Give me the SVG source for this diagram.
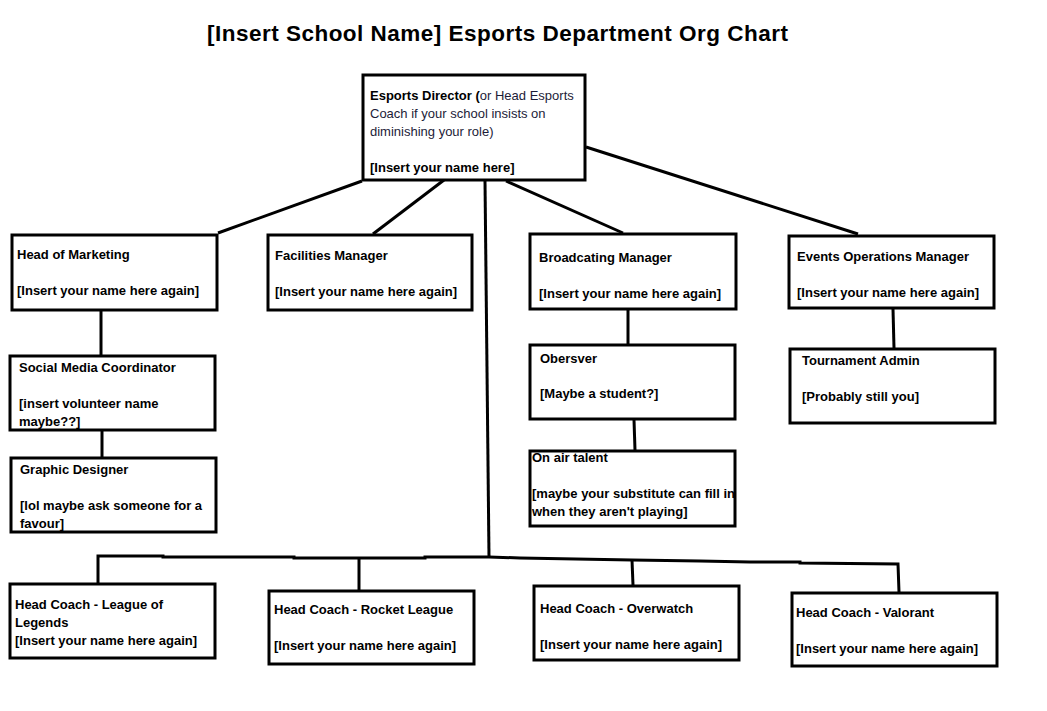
<svg xmlns="http://www.w3.org/2000/svg" width="1047" height="711" viewBox="0 0 1047 711">
<style>
text{font-family:"Liberation Sans",Arial,sans-serif;font-size:13px;font-weight:bold;fill:#000}
.n{font-weight:normal;fill:#1c1c38}
.title{font-size:22.5px}
.box{fill:#fff;stroke:#000;stroke-width:3}
.c{fill:none;stroke:#000;stroke-width:3;stroke-linejoin:miter}
</style>
<rect width="1047" height="711" fill="#fff"/>
<text class="title" x="207" y="41" textLength="581">[Insert School Name] Esports Department Org Chart</text>
<g id="connectors">
<path class="c" d="M362,181 L218,233"/>
<path class="c" d="M444,180 L373,234"/>
<path class="c" d="M485,181 L489,557"/>
<path class="c" d="M506,181 L623,233"/>
<path class="c" d="M586,147 L858,234"/>
<path class="c" d="M101,311 L101,355"/>
<path class="c" d="M102,431 L102,457"/>
<path class="c" d="M628,310 L628,344"/>
<path class="c" d="M634,420 L635,450"/>
<path class="c" d="M893,309 L894,348"/>
<path class="c" d="M98,583 L98,556 L163,556 L163,557 L294,557 L294,558 L425,558 L425,557 L489,557 L520,558 L632,560 L700,561 L750,562 L800,562 L800,563 L898,564 L899,592"/>
<path class="c" d="M359,557 L359,590"/>
<path class="c" d="M632,560 L633,585"/>
</g>
<g id="director">
<rect class="box" x="363" y="75" width="222" height="105"/>
<text x="370" y="100">Esports Director (<tspan class="n">or Head Esports</tspan></text>
<text class="n" x="370" y="118">Coach if your school insists on</text>
<text class="n" x="370" y="136">diminishing your role)</text>
<text x="370" y="172">[Insert your name here]</text>
</g>
<g id="head-marketing">
<rect class="box" x="12" y="235" width="205" height="75"/>
<text x="17" y="259">Head of Marketing</text>
<text x="17" y="295">[Insert your name here again]</text>
</g>
<g id="facilities">
<rect class="box" x="268" y="235" width="204" height="75"/>
<text x="275" y="260">Facilities Manager</text>
<text x="275" y="296">[Insert your name here again]</text>
</g>
<g id="broadcasting">
<rect class="box" x="530" y="234" width="206" height="75"/>
<text x="539" y="262">Broadcating Manager</text>
<text x="539" y="298">[Insert your name here again]</text>
</g>
<g id="events">
<rect class="box" x="789" y="236" width="205" height="72"/>
<text x="797" y="261">Events Operations Manager</text>
<text x="797" y="297">[Insert your name here again]</text>
</g>
<g id="social-media">
<rect class="box" x="10" y="356" width="205" height="74"/>
<text x="19" y="372">Social Media Coordinator</text>
<text x="19" y="408">[insert volunteer name</text>
<text x="19" y="426">maybe??]</text>
</g>
<g id="graphic-designer">
<rect class="box" x="11" y="458" width="205" height="74"/>
<text x="20" y="474">Graphic Designer</text>
<text x="20" y="510">[lol maybe ask someone for a</text>
<text x="20" y="528">favour]</text>
</g>
<g id="observer">
<rect class="box" x="530" y="345" width="205" height="74"/>
<text x="540" y="363">Obersver</text>
<text x="540" y="398">[Maybe a student?]</text>
</g>
<g id="on-air-talent">
<rect class="box" x="530" y="451" width="205" height="75"/>
<text x="532" y="462">On air talent</text>
<text x="532" y="498">[maybe your substitute can fill in</text>
<text x="532" y="516">when they aren't playing]</text>
</g>
<g id="tournament-admin">
<rect class="box" x="790" y="349" width="205" height="74"/>
<text x="802" y="365">Tournament Admin</text>
<text x="802" y="401">[Probably still you]</text>
</g>
<g id="coach-lol">
<rect class="box" x="10" y="584" width="205" height="74"/>
<text x="15" y="609">Head Coach - League of</text>
<text x="15" y="627">Legends</text>
<text x="15" y="645">[Insert your name here again]</text>
</g>
<g id="coach-rocket-league">
<rect class="box" x="269" y="591" width="205" height="73"/>
<text x="274" y="614">Head Coach - Rocket League</text>
<text x="274" y="650">[Insert your name here again]</text>
</g>
<g id="coach-overwatch">
<rect class="box" x="534" y="586" width="205" height="74"/>
<text x="540" y="613">Head Coach - Overwatch</text>
<text x="540" y="649">[Insert your name here again]</text>
</g>
<g id="coach-valorant">
<rect class="box" x="792" y="593" width="205" height="73"/>
<text x="796" y="617">Head Coach - Valorant</text>
<text x="796" y="653">[Insert your name here again]</text>
</g>
</svg>
